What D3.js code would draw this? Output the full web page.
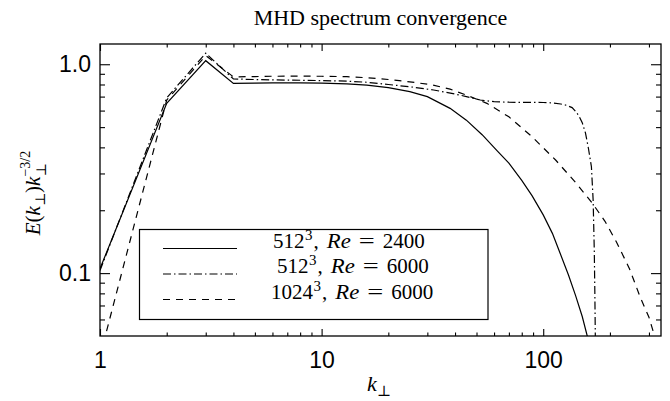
<!DOCTYPE html>
<html><head><meta charset="utf-8">
<script src="https://cdn.jsdelivr.net/npm/d3@7"></script>
<style>body{margin:0;background:#fff}
.serif{font-family:"Liberation Serif","Times New Roman",Times,"DejaVu Serif",serif}
.sans{font-family:"Liberation Sans",Arial,Helvetica,sans-serif}
</style>
</head><body><svg id="c" width="670" height="401"></svg>
<script>
// ---- data ----
const kSolid = [1, 2, 3, 4, 5, 6, 8, 10, 13, 16, 20, 25, 30, 38, 45, 53, 62, 70, 80, 89, 100, 110, 118, 130, 140, 150, 158, 165];
const eSolid = [0.105, 0.65, 1.04, 0.81, 0.812, 0.815, 0.815, 0.812, 0.805, 0.795, 0.772, 0.74, 0.70, 0.615, 0.54, 0.46, 0.385, 0.336, 0.278, 0.235, 0.19, 0.155, 0.128, 0.098, 0.078, 0.062, 0.05, 0.042];

const kDashDot = [1, 2, 3, 4, 5, 6, 8, 10, 13, 16, 20, 25, 32, 40, 45, 52, 60, 70, 80, 90, 100, 110, 120, 128, 135, 140, 145, 150, 155, 160, 165, 168, 170, 171, 172];
const eDashDot = [0.103, 0.69, 1.13, 0.85, 0.845, 0.842, 0.838, 0.835, 0.83, 0.82, 0.80, 0.78, 0.753, 0.72, 0.70, 0.674, 0.662, 0.658, 0.657, 0.657, 0.656, 0.653, 0.645, 0.635, 0.62, 0.595, 0.565, 0.525, 0.47, 0.395, 0.323, 0.223, 0.128, 0.08, 0.045];

const kDashed = [1, 2, 3, 4, 5, 6, 8, 10, 13, 16, 20, 22.4, 27, 31.6, 38, 45, 55.7, 70, 89, 114, 141, 166.6, 190, 214, 245, 274, 300, 318, 330];
const eDashed = [0.040, 0.674, 1.10, 0.87, 0.873, 0.876, 0.877, 0.876, 0.872, 0.862, 0.845, 0.834, 0.815, 0.796, 0.76, 0.712, 0.65, 0.56, 0.45, 0.347, 0.269, 0.216, 0.177, 0.141, 0.105, 0.0767, 0.0615, 0.05, 0.044];

const xMajor = [1, 10, 100];
const xMajorLabels = ["1", "10", "100"];
const xMinor = [2, 3, 4, 5, 6, 7, 8, 9, 20, 30, 40, 50, 60, 70, 80, 90, 200, 300];
const yMajor = [0.1, 1.0];
const yMajorLabels = ["0.1", "1.0"];
const yMinor = [0.06, 0.07, 0.08, 0.09, 0.2, 0.3, 0.4, 0.5, 0.6, 0.7, 0.8, 0.9];
const legendSizes = ["512", "512", "1024"];
const legendRe = ["2400", "6000", "6000"];
const titleText = "MHD spectrum convergence";

// ---- layout ----
const L = 100, R = 661, T = 44, B = 336;
const svg = d3.select("#c");
svg.append("rect").attr("width", 670).attr("height", 401).attr("fill", "#fff");
const x = d3.scaleLog().domain([1, 340]).range([L, R]);
const y = d3.scaleLog().domain([0.05, 1.25]).range([B, T]);

svg.append("defs").append("clipPath").attr("id", "clip")
  .append("rect").attr("x", L).attr("y", T).attr("width", R - L).attr("height", B - T);

// series
const series = [
  {k: kSolid, e: eSolid, dash: null},
  {k: kDashDot, e: eDashDot, dash: "8,3,1.5,3"},
  {k: kDashed, e: eDashed, dash: "7,6"}
];
const line = d3.line().x(d => x(d[0])).y(d => y(d[1]));
const gl = svg.append("g").attr("clip-path", "url(#clip)");
series.forEach(s => {
  gl.append("path").attr("d", line(d3.zip(s.k, s.e)))
    .attr("fill", "none").attr("stroke", "#000").attr("stroke-width", 1.2)
    .attr("stroke-dasharray", s.dash);
});

// axes (ticks pointing inward)
function styleAxis(g) {
  g.select(".domain").remove();
  g.attr("font-family", null).attr("font-size", null);
  g.selectAll("line").attr("stroke", "#000").attr("stroke-width", 1.1);
  g.selectAll("text").attr("class", "sans").style("font-size", "23px").attr("fill", "#000");
}
svg.append("g").attr("transform", `translate(0,${B})`)
  .call(d3.axisBottom(x).tickValues(xMajor).tickSize(-7).tickPadding(15.5).tickFormat((d, i) => xMajorLabels[i])).call(styleAxis);
svg.append("g").attr("transform", `translate(0,${B})`)
  .call(d3.axisBottom(x).tickValues(xMinor).tickSize(-3.5).tickFormat("")).call(styleAxis);
svg.append("g").attr("transform", `translate(0,${T})`)
  .call(d3.axisTop(x).tickValues(xMajor).tickSize(-7).tickFormat("")).call(styleAxis);
svg.append("g").attr("transform", `translate(0,${T})`)
  .call(d3.axisTop(x).tickValues(xMinor).tickSize(-3.5).tickFormat("")).call(styleAxis);
svg.append("g").attr("transform", `translate(${L},0)`)
  .call(d3.axisLeft(y).tickValues(yMajor).tickSize(-10).tickPadding(9).tickFormat((d, i) => yMajorLabels[i])).call(styleAxis);
svg.append("g").attr("transform", `translate(${L},0)`)
  .call(d3.axisLeft(y).tickValues(yMinor).tickSize(-5).tickFormat("")).call(styleAxis);
svg.append("g").attr("transform", `translate(${R},0)`)
  .call(d3.axisRight(y).tickValues(yMajor).tickSize(-10).tickFormat("")).call(styleAxis);
svg.append("g").attr("transform", `translate(${R},0)`)
  .call(d3.axisRight(y).tickValues(yMinor).tickSize(-5).tickFormat("")).call(styleAxis);

// frame
svg.append("rect").attr("x", L).attr("y", T).attr("width", R - L).attr("height", B - T)
  .attr("fill", "none").attr("stroke", "#000").attr("stroke-width", 1.3);

// math text helper
function mathText(parent, x0, y0, parts, anchor) {
  const g = parent.append("g");
  let cx = 0, prevStart = 0, maxX = 0;
  parts.forEach(p => {
    if (p.gap) { cx += p.gap; return; }
    const start = p.back ? prevStart : cx;
    const t = g.append("text").attr("class", "serif").attr("x", start).attr("y", p.dy || 0)
      .style("font-size", p.size + "px")
      .style("font-style", p.it ? "italic" : "normal").attr("fill", "#000")
      .style("white-space", "pre").text(p.t);
    if (p.len) t.attr("textLength", p.len).attr("lengthAdjust", "spacingAndGlyphs");
    const w = p.len || t.node().getComputedTextLength();
    if (!p.back) prevStart = start;
    cx = Math.max(cx, start + w);
    maxX = Math.max(maxX, cx);
  });
  const off = anchor === "middle" ? -maxX / 2 : 0;
  g.attr("transform", `translate(${x0 + off},${y0})`);
  return g;
}

// title
svg.append("text").attr("class", "serif").attr("x", (L + R) / 2).attr("y", 25).attr("text-anchor", "middle")
  .style("font-size", "22px").attr("fill", "#000").text(titleText);

// x label
mathText(svg, 379, 391, [
  {t: "k", it: true, size: 22},
  {t: "⊥", size: 15, dy: 5}
], "middle");

// y label
const yl = svg.append("g").attr("transform", "translate(40,193) rotate(-90)");
mathText(yl, 0, 0, [
  {t: "E", it: true, size: 21},
  {t: "(", size: 21},
  {t: "k", it: true, size: 21},
  {t: "⊥", size: 14, dy: 5},
  {t: ")", size: 21},
  {t: "k", it: true, size: 21},
  {t: "⊥", size: 14, dy: 6},
  {t: "−3/2", size: 14, dy: -10, back: true}
], "middle");

// legend
const lg = svg.append("g");
lg.append("rect").attr("x", 139.5).attr("y", 229.5).attr("width", 348.5).attr("height", 90)
  .attr("fill", "#fff").attr("stroke", "#000").attr("stroke-width", 1.2);
const rowY = [248.5, 274, 299.5];
const textX = [273, 277, 271];
series.forEach((s, i) => {
  lg.append("line").attr("x1", 163).attr("x2", 237).attr("y1", rowY[i]).attr("y2", rowY[i])
    .attr("stroke", "#000").attr("stroke-width", 1.2).attr("stroke-dasharray", s.dash);
  mathText(lg, textX[i], rowY[i] - 1, [
    {t: legendSizes[i], size: 21},
    {gap: 0.5},
    {t: "3", size: 15, dy: -8},
    {gap: 1},
    {t: ",", size: 21},
    {gap: 8},
    {t: "Re", it: true, size: 21, len: 24},
    {gap: 8},
    {t: "=", size: 21, len: 16},
    {gap: 8},
    {t: legendRe[i], size: 21}
  ], "start");
});
</script></body></html>
